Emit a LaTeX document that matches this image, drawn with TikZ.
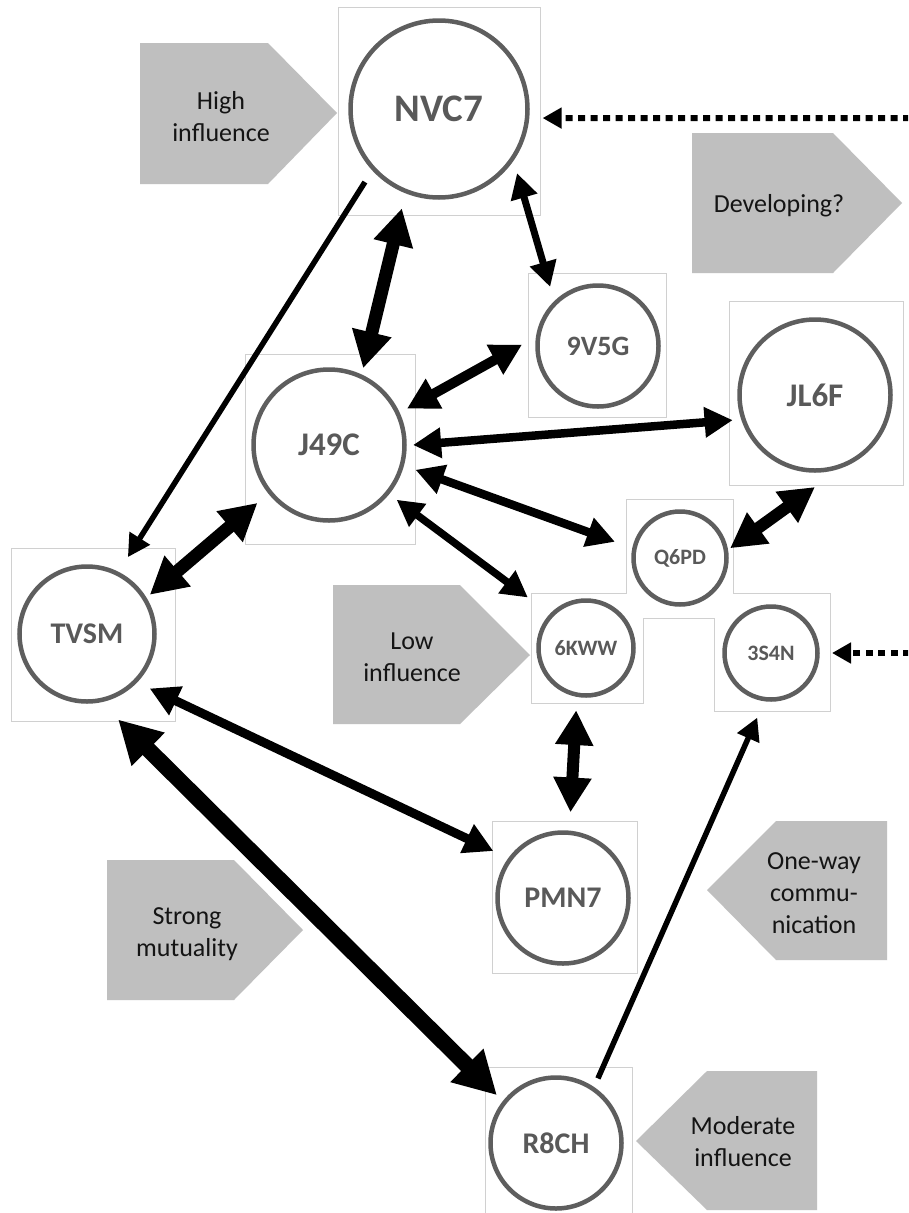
\documentclass[tikz,border=0pt]{standalone}
\usepackage{fontspec}
\setmainfont{Carlito}
\usetikzlibrary{arrows.meta,calc}
\definecolor{ringgray}{HTML}{5E5E5E}
\definecolor{labelgray}{HTML}{595959}
\definecolor{tagfill}{HTML}{BFBFBF}
\definecolor{framegray}{HTML}{D0D0D0}
\definecolor{tagink}{HTML}{141414}
\newcommand\lblsize[1]{\fontsize{#1}{#1}\selectfont\bfseries}

\begin{document}
\begin{tikzpicture}[x=1pt,y=-1pt,
  actor/.style={circle, draw=ringgray, line width=4.5pt, fill=white, inner sep=0pt,
                text=labelgray, minimum size=#1},
  frame/.style={draw=framegray, line width=1pt},
  tag/.style={fill=tagfill},
  tagtext/.style={text=tagink, align=center, inner sep=0pt,
                  font=\fontsize{26}{32}\selectfont},
  link/.style={line width=#1pt,
     arrows={Triangle[length=12pt 1.9,width=12pt 2.0]-Triangle[length=12pt 1.9,width=12pt 2.0]}},
  oneway/.style={line width=#1pt, arrows={-Triangle[length=12pt 1.9,width=12pt 2.0]}},
  hint/.style={line width=6pt, dash pattern=on 7pt off 5.5pt,
     arrows={-Triangle[length=19pt,width=20pt]}},
]
\clip (0,0) rectangle (908,1213);
\fill[white] (0,0) rectangle (908,1213);

% picture frames around the actors
\draw[frame] (338,7) rectangle (540,215);
\draw[frame] (528,273) rectangle (666,417);
\draw[frame] (729,301) rectangle (903,485);
\draw[frame] (245,354) rectangle (415,544);
\draw[frame] (11,548) rectangle (175,721);
\draw[frame] (492,821) rectangle (637,973);
\draw[frame] (485,1067) rectangle (632,1230);
\draw[frame] (626,593) -- (626,499) -- (733,499) -- (733,593) -- (830,593)
  -- (830,711) -- (714,711) -- (714,618) -- (643,618) -- (643,703)
  -- (531,703) -- (531,593) -- cycle;

% grey pointer tags
\fill[tag] (140,43) -- (268,43) -- (337,113) -- (268,184) -- (140,184) -- cycle;
\node[tagtext] (tHigh) at (221,117) {High\\influence};
\fill[tag] (692,133) -- (833,133) -- (902,203) -- (833,273) -- (692,273) -- cycle;
\node[tagtext] (tDev) at (779,206) {Developing?};
\fill[tag] (333,585) -- (460,585) -- (530,655) -- (460,724) -- (333,724) -- cycle;
\node[tagtext] (tLow) at (412,657) {Low\\influence};
\fill[tag] (107,860) -- (234,860) -- (303,930) -- (234,1000) -- (107,1000) -- cycle;
\node[tagtext] (tStrong) at (187,934) {Strong\\mutuality};
\fill[tag] (887,821) -- (776,821) -- (707,890) -- (776,960) -- (887,960) -- cycle;
\node[tagtext] (tOne) at (814,893) {One-way\\commu-\\nication};
\fill[tag] (817,1071) -- (707,1071) -- (636,1141) -- (707,1210) -- (817,1210) -- cycle;
\node[tagtext] (tMod) at (743,1142) {Moderate\\influence};

% actors
\node[actor=177, font=\lblsize{39}] (NVC7) at (439,109) {NVC7};
\node[actor=121, font=\lblsize{28}] (n9V5G) at (598,346) {9V5G};
\node[actor=151, font=\lblsize{33}] (JL6F) at (815,395) {JL6F};
\node[actor=151, font=\lblsize{33}] (J49C) at (329,445) {J49C};
\node[actor=135, font=\lblsize{30}] (TVSM) at (87,634) {TVSM};
\node[actor=93, font=\lblsize{22}] (Q6PD) at (680,558) {Q6PD};
\node[actor=95, font=\lblsize{22}] (n6KWW) at (586,648) {6KWW};
\node[actor=93, font=\lblsize{22}] (n3S4N) at (771,653) {3S4N};
\node[actor=131, font=\lblsize{30}] (PMN7) at (563,898) {PMN7};
\node[actor=131, font=\lblsize{30}] (R8CH) at (556,1143) {R8CH};

% relations
\draw[oneway=5.5] ($(NVC7)+(224.6:104pt)$) -- ($(TVSM)+(62:87pt)$);
\draw[link=13] ($(NVC7)+(249.5:106pt)$) -- ($(J49C)+(66:84pt)$);
\draw[link=7] ($(NVC7)+(320.6:101pt)$) -- ($(n9V5G)+(129:76pt)$);
\draw[link=10] ($(n9V5G)+(179:76pt)$) -- ($(J49C)+(25:86pt)$);
\draw[link=8.5] ($(J49C)+(0:84pt)$) -- ($(JL6F)+(197:86pt)$);
\draw[link=8.5] ($(J49C)+(344:90pt)$) -- ($(Q6PD)+(166:67pt)$);
\draw[link=7.5] ($(J49C)+(321:87pt)$) -- ($(n6KWW)+(139:77pt)$);
\draw[link=13] ($(J49C)+(219:92pt)$) -- ($(TVSM)+(32:74pt)$);
\draw[link=12] ($(Q6PD)+(11:51pt)$) -- ($(JL6F)+(270:92pt)$);
\draw[link=12] ($(n6KWW)+(261:63pt)$) -- ($(PMN7)+(85:86pt)$);
\draw[link=9] ($(TVSM)+(319:83pt)$) -- ($(PMN7)+(146:84pt)$);
\draw[link=16] ($(TVSM)+(290:91pt)$) -- ($(R8CH)+(141:76pt)$);
\draw[oneway=5.5] ($(R8CH)+(57:77pt)$) -- ($(n3S4N)+(258:66pt)$);

% incoming signals from outside
\coordinate (feedA) at (910,118);
\coordinate (feedB) at (910,653);
\draw[hint] (feedA) -- ($(NVC7)+(355:104pt)$);
\draw[hint] (feedB) -- ($(n3S4N)+(0:61pt)$);
\end{tikzpicture}
\end{document}
